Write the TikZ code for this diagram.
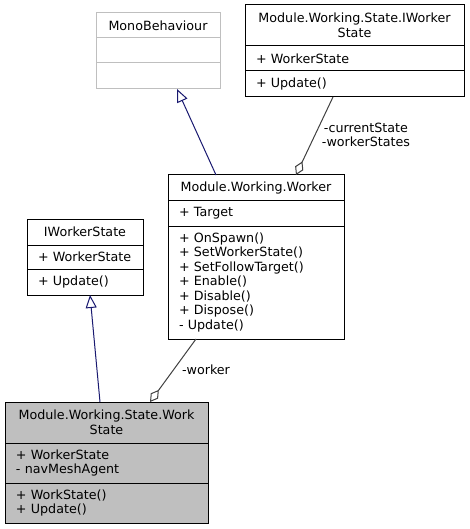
\documentclass[tikz,border=0pt]{standalone}
\usepackage{fontspec}
\setmainfont{DejaVu Sans}
\usetikzlibrary{positioning,arrows.meta}
\definecolor{edgegray}{HTML}{404040}
\definecolor{inhblue}{HTML}{191970}
\definecolor{boxgray}{HTML}{BFBFBF}
\newcommand{\cfont}{\fontsize{12.7}{14.5}\selectfont}

\begin{document}
\begin{tikzpicture}[x=1pt,y=-1pt]
	\tikzset{every node/.style={font=\cfont}}
	\tikzset{title/.style={draw, line width=1pt, outer sep=0pt, inner xsep=0pt, inner ysep=0pt, text width=#1, align=center, anchor=north}}
	\tikzset{member/.style={draw, line width=1pt, outer sep=0pt, inner xsep=11pt, inner ysep=0pt, text width=#1, align=left, anchor=north}}
	\tikzset{inh/.style={draw=inhblue, line width=1pt, -{Triangle[open, length=13pt, width=11pt]}}}
	\tikzset{agg/.style={draw=edgegray, line width=1pt, -{Diamond[open, length=15pt, width=9pt]}}}
	\useasboundingbox (0,0) rectangle (469,529);
	\node[title=124pt, draw=boxgray, minimum height=25pt] (mono1) at (158,13) {MonoBehaviour};
	\node[member=102pt, draw=boxgray, minimum height=25pt, below=0pt of mono1] (mono2) {};
	\node[member=102pt, draw=boxgray, minimum height=26pt, below=0pt of mono2] (mono3) {};
	\node[title=219pt, minimum height=41pt] (ifull1) at (354.5,5) {Module.Working.State.IWorker\\State};
	\node[member=197pt, minimum height=25pt, below=0pt of ifull1] (ifull2) {+ WorkerState};
	\node[member=197pt, minimum height=26pt, below=0pt of ifull2] (ifull3) {+ Update()};
	\node[title=176pt, minimum height=26pt] (wk1) at (256,175) {Module.Working.Worker};
	\node[member=154pt, minimum height=25pt, below=0pt of wk1] (wk2) {+ Target};
	\node[member=154pt, minimum height=113pt, below=0pt of wk2] (wk3) {+ OnSpawn()\\+ SetWorkerState()\\+ SetFollowTarget()\\+ Enable()\\+ Disable()\\+ Dispose()\\- Update()};
	\node[title=116pt, minimum height=26pt] (iws1) at (85,219) {IWorkerState};
	\node[member=94pt, minimum height=24pt, below=0pt of iws1] (iws2) {+ WorkerState};
	\node[member=94pt, minimum height=26pt, below=0pt of iws2] (iws3) {+ Update()};
	\node[title=203pt, fill=boxgray, minimum height=41pt] (ws1) at (106.5,402) {Module.Working.State.Work\\State};
	\node[member=181pt, fill=boxgray, minimum height=40pt, below=0pt of ws1] (ws2) {+ WorkerState\\- navMeshAgent};
	\node[member=181pt, fill=boxgray, minimum height=40pt, below=0pt of ws2] (ws3) {+ WorkState()\\+ Update()};
	\draw[inh] ([xshift=48pt]wk1.north west) -- ([xshift=81pt]mono3.south west);
	\draw[agg] ([xshift=88pt]ifull3.south west) -- ([xshift=128pt]wk1.north west);
	\node[align=center] (lcur) at (366,135) {-currentState\\-workerStates};
	\draw[inh] ([xshift=95pt]ws1.north west) -- ([xshift=63pt]iws3.south west);
	\draw[agg] ([xshift=28pt]wk3.south west) -- ([xshift=145pt]ws1.north west);
	\node (lwk) at (206,370) {-worker};
\end{tikzpicture}
\end{document}
